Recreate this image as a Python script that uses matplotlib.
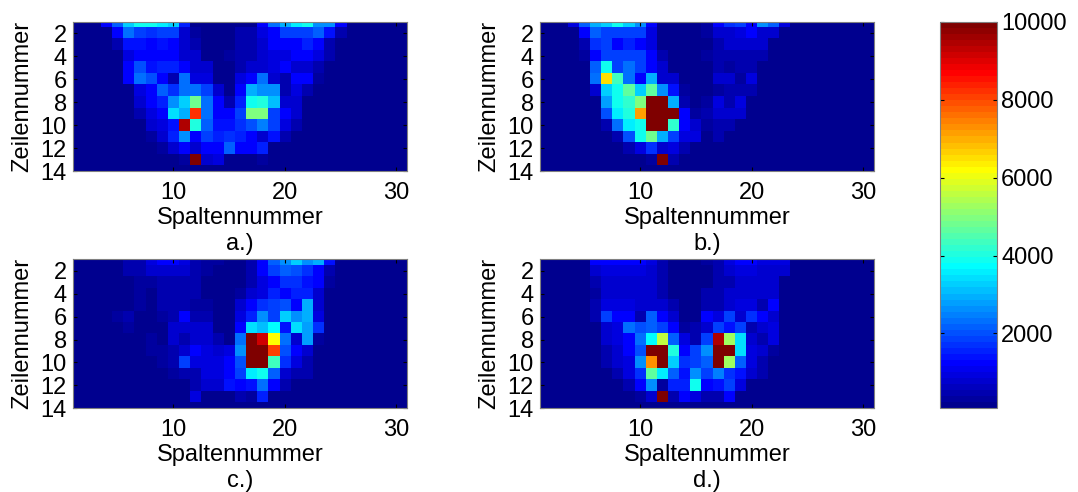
import numpy as np
import matplotlib
matplotlib.use("Agg")
import matplotlib.pyplot as plt
from matplotlib.colors import ListedColormap

plt.rcParams['font.family'] = ['Liberation Sans', 'DejaVu Sans']

# Values in hundreds, one row per Zeilennummer: (first column, values from there on)
panel_a = [
    (4, [12, 22, 33, 39, 38, 36, 32, 15, 1, 1, 1, 1, 1, 1, 13, 24, 29, 35, 38, 26, 26, 13]),
    (5, [13, 24, 19, 17, 19, 19, 8, 3, 1, 1, 1, 4, 5, 9, 13, 19, 18, 18, 21, 14, 4]),
    (5, [4, 14, 14, 12, 14, 13, 8, 5, 1, 1, 1, 4, 5, 7, 12, 12, 13, 15, 13, 5]),
    (6, [9, 13, 13, 12, 13, 8, 7, 1, 1, 3, 4, 5, 8, 9, 10, 12, 13, 9, 4]),
    (6, [13, 20, 14, 15, 15, 12, 8, 7, 1, 1, 5, 7, 8, 10, 13, 8, 7, 4]),
    (6, [13, 24, 20, 13, 5, 23, 9, 10, 1, 1, 9, 12, 24, 7, 4, 12, 13, 3]),
    (7, [10, 13, 21, 17, 23, 24, 18, 8, 1, 12, 29, 26, 26, 4, 10, 5]),
    (7, [8, 12, 15, 26, 33, 48, 23, 12, 4, 15, 38, 40, 31, 8, 7]),
    (7, [4, 9, 12, 34, 29, 82, 24, 13, 13, 18, 49, 49, 19, 12, 8]),
    (8, [7, 9, 14, 95, 41, 22, 14, 14, 17, 20, 25, 18, 10, 5]),
    (8, [3, 7, 15, 26, 13, 19, 15, 17, 15, 13, 7, 14, 5]),
    (9, [3, 8, 13, 8, 13, 13, 22, 13, 13, 15]),
    (11, [3, 100, 7, 10, 1, 1, 1, 3]),
    (1, [1]),
]
panel_b = [
    (4, [10, 22, 29, 33, 38, 32, 26, 12, 1, 1, 1, 1, 3, 12, 17, 18, 13, 26, 22, 9]),
    (5, [13, 22, 18, 18, 18, 18, 10, 1, 1, 1, 1, 3, 7, 8, 10, 12, 8, 7]),
    (5, [5, 17, 18, 13, 15, 13, 10, 1, 1, 1, 1, 1, 5, 7, 8, 8, 7]),
    (5, [3, 13, 19, 18, 18, 18, 12, 5, 1, 1, 1, 3, 4, 5, 5, 5, 4]),
    (6, [22, 39, 19, 23, 19, 13, 7, 1, 1, 1, 1, 4, 3, 5, 4]),
    (6, [24, 65, 44, 24, 13, 30, 8, 8, 1, 1, 1, 7, 7, 3, 9]),
    (6, [8, 33, 38, 46, 33, 46, 27, 14, 3, 1, 1, 3, 4, 4, 4]),
    (7, [28, 38, 42, 50, 100, 100, 30, 4, 1, 3, 9, 5, 9]),
    (7, [20, 36, 41, 72, 100, 100, 100, 12, 3, 4, 7, 7, 7]),
    (7, [4, 24, 35, 38, 100, 100, 42, 12, 8, 3, 4, 4, 1]),
    (8, [5, 20, 38, 48, 29, 18, 10, 9, 1, 4]),
    (9, [5, 10, 17, 7, 10, 5]),
    (11, [3, 100, 4]),
    (1, [1]),
]
panel_c = [
    (6, [4, 4, 10, 12, 12, 9, 5, 3, 3, 1, 1, 4, 13, 22, 26, 33, 26, 30, 14, 1]),
    (6, [4, 4, 7, 8, 8, 7, 4, 3, 1, 1, 1, 4, 12, 18, 21, 20, 17, 13, 5]),
    (7, [3, 3, 5, 5, 4, 4, 1, 1, 1, 1, 5, 10, 13, 17, 17, 14, 12, 3]),
    (7, [3, 1, 4, 4, 4, 4, 1, 1, 1, 3, 7, 10, 15, 13, 15, 15, 8]),
    (7, [3, 1, 4, 4, 4, 3, 3, 1, 1, 7, 12, 17, 18, 20, 12, 29, 7]),
    (5, [3, 4, 1, 1, 3, 5, 12, 4, 5, 1, 1, 10, 15, 27, 18, 33, 26, 30, 10]),
    (6, [3, 1, 1, 1, 7, 7, 8, 7, 1, 1, 13, 34, 31, 37, 14, 34, 28, 17]),
    (8, [3, 1, 7, 4, 8, 7, 4, 1, 23, 100, 92, 62, 24, 8, 28, 3]),
    (8, [3, 3, 5, 7, 12, 10, 8, 10, 27, 100, 100, 80, 20, 13, 7]),
    (9, [3, 4, 18, 10, 10, 9, 12, 20, 100, 100, 44, 17, 10, 5]),
    (10, [3, 5, 4, 10, 9, 12, 18, 35, 38, 22, 8, 4, 4]),
    (12, [4, 8, 8, 14, 12, 14, 23, 12, 5]),
    (12, [9, 1, 1, 1, 4, 3, 15]),
    (1, [1]),
]
panel_d = [
    (6, [12, 12, 12, 12, 12, 9, 5, 1, 1, 1, 3, 5, 9, 12, 12, 10, 10, 9]),
    (6, [8, 9, 9, 9, 10, 8, 5, 1, 1, 1, 1, 4, 7, 9, 9, 8, 8, 7]),
    (6, [4, 8, 8, 8, 7, 7, 5, 1, 1, 1, 1, 4, 5, 7, 7, 7, 7]),
    (6, [3, 7, 7, 7, 7, 7, 5, 1, 1, 1, 4, 5, 7, 7, 7, 7, 7]),
    (6, [4, 9, 9, 9, 8, 8, 7, 4, 1, 1, 4, 5, 7, 9, 9, 5, 12]),
    (6, [5, 18, 12, 13, 5, 22, 12, 7, 1, 1, 12, 10, 18, 8, 17, 12, 8]),
    (7, [7, 9, 23, 20, 22, 19, 12, 3, 4, 8, 19, 14, 19, 5, 7, 10]),
    (7, [7, 9, 13, 23, 37, 56, 22, 10, 4, 18, 95, 53, 34, 8, 4, 9]),
    (7, [5, 8, 12, 20, 100, 100, 41, 12, 19, 27, 100, 100, 34, 10, 7, 3]),
    (7, [4, 7, 9, 26, 73, 100, 33, 17, 18, 22, 100, 52, 22, 10, 5]),
    (8, [4, 9, 17, 46, 36, 22, 14, 27, 18, 25, 17, 14, 7, 4]),
    (9, [4, 12, 26, 3, 15, 15, 38, 13, 14, 18, 10]),
    (10, [3, 7, 100, 5, 13, 10, 5, 4, 12]),
    (1, [1]),
]
panels = [panel_a, panel_b, panel_c, panel_d]
panel_names = ['a.)', 'b.)', 'c.)', 'd.)']
x_ticks = [10, 20, 30]
y_ticks = [2, 4, 6, 8, 10, 12, 14]
cbar_ticks = [2000, 4000, 6000, 8000, 10000]
n_cols = 31
v_min = 80
v_max = 10000


def to_grid(rows):
    grid = np.ones((len(rows), n_cols))
    for r, (start, values) in enumerate(rows):
        grid[r, start - 1:start - 1 + len(values)] = values
    return grid * 100


# matlab flavour of jet with 64 steps
s = np.arange(1, 65) / 64
jet64 = ListedColormap(np.clip(1.5 - np.abs(4 * s[:, None] - np.array([3, 2, 1])), 0, 1))

W, H = 1078, 492
fig = plt.figure(figsize=(W / 100, H / 100), dpi=100)


def px_axes(left, top, right, bottom):
    return fig.add_axes([left / W, 1 - bottom / H, (right - left) / W, (bottom - top) / H])


boxes = [(73, 21.7, 407, 171), (540, 21.7, 874, 171), (73, 259.3, 407, 408.3), (540, 259.3, 874, 408.3)]
fs = 17
im = None
for rows, name, box in zip(panels, panel_names, boxes):
    ax = px_axes(*box)
    grid = to_grid(rows)
    im = ax.imshow(grid, cmap=jet64, vmin=v_min, vmax=v_max, aspect='auto', interpolation='nearest',
                   extent=(0.5, n_cols + 0.5, grid.shape[0] + 0.5, 0.5))
    ax.set_xlim(1, n_cols)
    ax.set_ylim(14, 1)
    ax.set_xticks(x_ticks)
    ax.set_yticks(y_ticks)
    ax.tick_params(direction='in', length=3, width=0.8, top=True, right=True, labelsize=fs)
    ax.tick_params(axis='x', pad=8)
    ax.tick_params(axis='y', pad=4.5)
    ax.set_xlabel('Spaltennummer', fontsize=fs, labelpad=2)
    ax.set_ylabel('Zeilennummer', fontsize=fs, labelpad=5)
    for sp in ax.spines.values():
        sp.set_color('#808080')
    fig.text((box[0] + box[2]) / 2 / W, 1 - (box[3] + 73) / H, name, fontsize=fs, ha='center', va='center')

cax = px_axes(940, 21.7, 997, 408.3)
cb = fig.colorbar(im, cax=cax, ticks=cbar_ticks)
cb.ax.tick_params(direction='in', length=3, width=0.8, left=True, right=True, labelsize=fs, pad=3)
cb.outline.set_edgecolor('#808080')

fig.savefig('out.png', dpi=100)
